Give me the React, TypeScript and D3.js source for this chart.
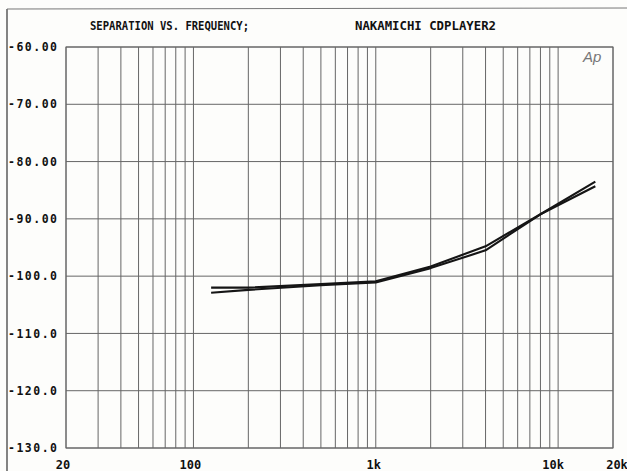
import React from "react";
import * as d3 from "d3";

const W = 627;
const H = 471;

const titleLeft = "SEPARATION VS. FREQUENCY;";
const titleRight = "NAKAMICHI CDPLAYER2";

const yTicks = [-60, -70, -80, -90, -100, -110, -120, -130];
const yTickLabels = ["-60.00", "-70.00", "-80.00", "-90.00", "-100.0", "-110.0", "-120.0", "-130.0"];

const xGrid = [
  20, 30, 40, 50, 60, 70, 80, 90, 100,
  200, 300, 400, 500, 600, 700, 800, 900, 1000,
  2000, 3000, 4000, 5000, 6000, 7000, 8000, 9000, 10000, 20000,
];
const xTickValues = [20, 100, 1000, 10000, 20000];
const xTickLabels = ["20", "100", "1k", "10k", "20k"];

const freqs = [125, 200, 500, 1000, 2000, 4000, 8000, 16000];
const seriesA = [-102.0, -102.0, -101.4, -100.9, -98.3, -94.8, -89.2, -84.3];
const seriesB = [-102.9, -102.4, -101.6, -101.1, -98.6, -95.5, -89.2, -83.5];

const MONO = "'DejaVu Sans Mono', 'Liberation Mono', monospace";

export default function App() {
  const left = 66;
  const right = 613;
  const top = 47;
  const bottom = 448;

  const x = d3.scaleLog().domain([20, 20000]).range([left, right]);
  const y = d3.scaleLinear().domain([-130, -60]).range([bottom, top]);

  const line = d3
    .line<[number, number]>()
    .x((d) => x(d[0]))
    .y((d) => y(d[1]));

  const dA = line(freqs.map((f, i) => [f, seriesA[i]] as [number, number])) || "";
  const dB = line(freqs.map((f, i) => [f, seriesB[i]] as [number, number])) || "";

  const gridColor = "#666";

  const xLabelOffsets = [-3, -3, -2, -5, 4];

  return (
    <svg
      width={W}
      height={H}
      viewBox={`0 0 ${W} ${H}`}
      style={{ position: "absolute", left: 0, top: 0, background: "#fff" }}
    >
      <rect x={0} y={0} width={W} height={H} fill="#fdfdfb" />
      {/* outer frame */}
      <line x1={7} y1={9} x2={7} y2={H} stroke="#333" strokeWidth={1.2} />
      <line x1={7} y1={9} x2={W} y2={8} stroke="#777" strokeWidth={1} />

      {/* title */}
      <text
        x={90}
        y={30}
        fontFamily={MONO}
        fontWeight="bold"
        fontSize={13}
        fill="#111"
        textLength={159}
        lengthAdjust="spacingAndGlyphs"
      >
        {titleLeft}
      </text>
      <text
        x={355}
        y={30}
        fontFamily={MONO}
        fontWeight="bold"
        fontSize={13}
        fill="#111"
        textLength={141}
        lengthAdjust="spacingAndGlyphs"
      >
        {titleRight}
      </text>

      {/* grid */}
      <g stroke={gridColor} strokeWidth={1} fill="none">
        {xGrid.map((f) => (
          <line key={"v" + f} x1={x(f)} x2={x(f)} y1={top} y2={bottom} />
        ))}
        {yTicks.map((v) => (
          <line key={"h" + v} x1={left} x2={right} y1={y(v)} y2={y(v)} />
        ))}
        <rect x={left} y={top} width={right - left} height={bottom - top} />
      </g>

      {/* y labels */}
      {yTicks.map((v, i) => (
        <text
          key={"yl" + v}
          x={8}
          y={y(v)}
          dy="0.36em"
          fontFamily={MONO}
          fontWeight="bold"
          fontSize={11.5}
          fill="#111"
          textLength={49}
          lengthAdjust="spacing"
        >
          {yTickLabels[i]}
        </text>
      ))}

      {/* x labels */}
      {xTickValues.map((f, i) => (
        <text
          key={"xl" + f}
          x={x(f) + xLabelOffsets[i]}
          y={469}
          textAnchor="middle"
          fontFamily={MONO}
          fontWeight="bold"
          fontSize={12}
          fill="#111"
        >
          {xTickLabels[i]}
        </text>
      ))}

      {/* Ap logo */}
      <text
        x={583}
        y={62}
        fontFamily="'Liberation Sans', sans-serif"
        fontStyle="italic"
        fontSize={15}
        fill="#777"
      >
        Ap
      </text>

      {/* curves */}
      <path d={dA} fill="none" stroke="#151515" strokeWidth={2.1} strokeLinejoin="round" />
      <path d={dB} fill="none" stroke="#151515" strokeWidth={2.1} strokeLinejoin="round" />
    </svg>
  );
}
